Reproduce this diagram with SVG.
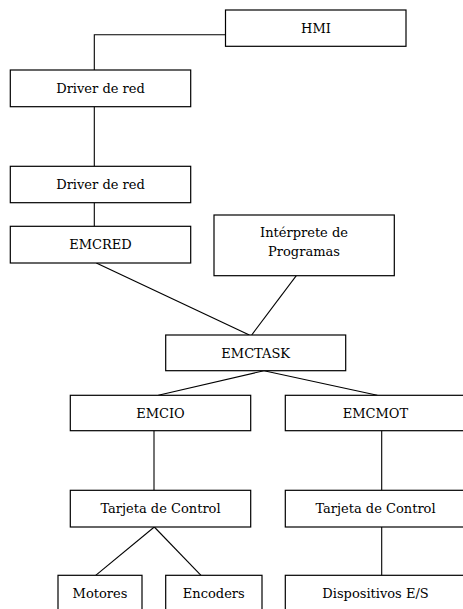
<svg xmlns="http://www.w3.org/2000/svg" width="463" height="609" viewBox="0 0 463 609" font-family="DejaVu Serif, Liberation Serif, serif" font-size="13">
<style>
rect{fill:#fff;stroke:#000;stroke-width:1.2}
line,polyline{stroke:#000;stroke-width:1.1;fill:none}
text{fill:#000;text-anchor:middle}
</style>
<rect width="463" height="609" style="stroke:none"/>
<g id="connectors">
<polyline points="226,34.7 94.3,34.7 94.3,70"/>
<line x1="94.3" y1="106.7" x2="94.3" y2="166.3"/>
<line x1="94.3" y1="202.7" x2="94.3" y2="226.3"/>
<line x1="96.3" y1="263" x2="249.3" y2="335"/>
<line x1="296.3" y1="275.7" x2="251.7" y2="335"/>
<line x1="264" y1="370.7" x2="158.3" y2="395.3"/>
<line x1="264" y1="370.7" x2="377.3" y2="395.3"/>
<line x1="154" y1="430.7" x2="154" y2="490.3"/>
<line x1="381.7" y1="430.7" x2="381.7" y2="490.3"/>
<line x1="154.3" y1="527" x2="95.7" y2="575.3"/>
<line x1="154.3" y1="527" x2="201" y2="575.3"/>
<line x1="381.7" y1="527" x2="381.7" y2="575.3"/>
</g>
<g id="hmi"><rect x="225.5" y="10" width="180.5" height="36.3"/><text x="316" y="32.7">HMI</text></g>
<g id="driver1"><rect x="10.3" y="70" width="180.4" height="36.7"/><text x="100.5" y="92.5">Driver de red</text></g>
<g id="driver2"><rect x="10.3" y="166.3" width="180.4" height="36.4"/><text x="100.5" y="188.8">Driver de red</text></g>
<g id="emcred"><rect x="10.3" y="226.3" width="180.4" height="36.7"/><text x="100.5" y="249">EMCRED</text></g>
<g id="interprete"><rect x="214" y="215" width="180.3" height="60.7"/><text x="304" y="237.3">Intérprete de</text><text x="304" y="256">Programas</text></g>
<g id="emctask"><rect x="165.7" y="335" width="180" height="35.7"/><text x="255.7" y="357.7">EMCTASK</text></g>
<g id="emcio"><rect x="70.3" y="395.3" width="180.4" height="35.4"/><text x="160.5" y="417.7">EMCIO</text></g>
<g id="emcmot"><rect x="285.3" y="395.3" width="180.4" height="35.4"/><text x="375.5" y="417.7">EMCMOT</text></g>
<g id="tarjeta1"><rect x="70.3" y="490.3" width="180.4" height="36.7"/><text x="160.5" y="513.3">Tarjeta de Control</text></g>
<g id="tarjeta2"><rect x="285.3" y="490.3" width="180.4" height="36.7"/><text x="375.5" y="513.3">Tarjeta de Control</text></g>
<g id="motores"><rect x="58" y="575.3" width="84" height="40"/><text x="100" y="598.3">Motores</text></g>
<g id="encoders"><rect x="165.7" y="575.3" width="96.3" height="40"/><text x="213.8" y="598.3">Encoders</text></g>
<g id="dispositivos"><rect x="285.3" y="575.3" width="180.4" height="40"/><text x="375.5" y="598.3">Dispositivos E/S</text></g>
</svg>
